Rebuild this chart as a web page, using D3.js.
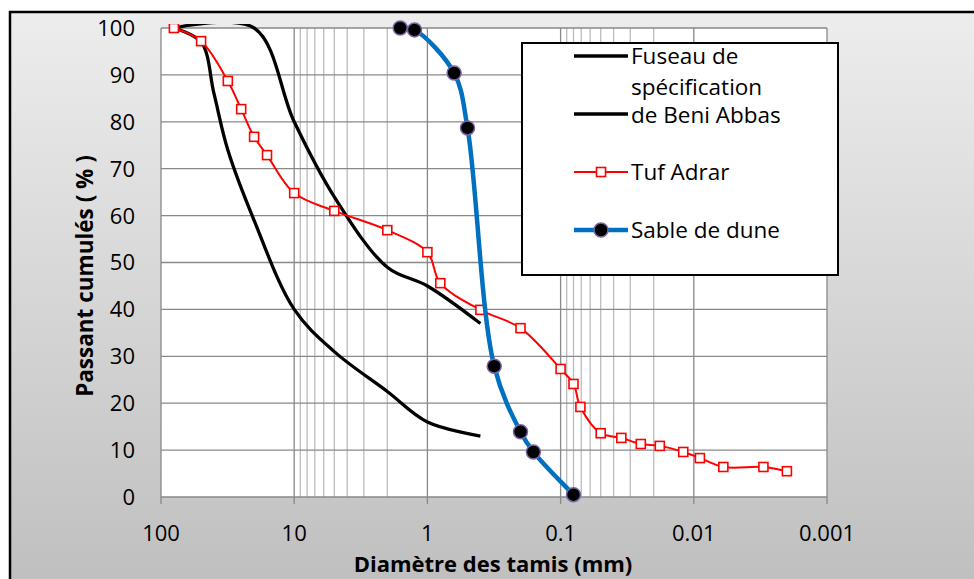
<!DOCTYPE html>
<html>
<head>
<meta charset="utf-8">
<script src="https://cdn.jsdelivr.net/npm/d3@7"></script>
<style>
  body { margin: 0; background: #fff; }
  text { font-family: "Open Sans", sans-serif; fill: #000; }
</style>
</head>
<body>
<div id="chart"></div>
<script>
// Sieve sizes (mm) and cumulative passing (%)
var tufDiam = [80, 50, 31.5, 25, 20, 16, 10, 5, 2, 1, 0.8, 0.4, 0.2, 0.1, 0.08, 0.071, 0.05, 0.035, 0.025, 0.018, 0.012, 0.009, 0.006, 0.003, 0.002];
var tufPass = [100, 97.2, 88.7, 82.7, 76.8, 72.9, 64.8, 61, 56.9, 52.2, 45.6, 39.9, 36, 27.3, 24.1, 19.2, 13.6, 12.6, 11.3, 10.9, 9.6, 8.3, 6.4, 6.4, 5.5];

var sableDiam = [1.6, 1.25, 0.63, 0.5, 0.315, 0.2, 0.16, 0.08];
var sablePass = [100, 99.6, 90.4, 78.7, 27.9, 13.9, 9.6, 0.5];

var fuseauHautDiam = [80, 20, 10, 5, 2, 1, 0.4];
var fuseauHautPass = [100, 100, 80, 64, 49, 45, 37];

var fuseauBasDiam = [80, 50, 40, 31.5, 20, 10, 5, 2, 1, 0.4];
var fuseauBasPass = [100, 97, 86, 74, 59, 40, 31, 22.5, 16, 13];

var xTicks = [100, 10, 1, 0.1, 0.01, 0.001];
var xTickLabels = ["100", "10", "1", "0.1", "0.01", "0.001"];
var yTicks = [0, 10, 20, 30, 40, 50, 60, 70, 80, 90, 100];
// minor grid only appears in these decades in the original
var xMinor = [9, 8, 7, 6, 5, 4, 3, 2, 0.09, 0.08, 0.07, 0.06, 0.05, 0.04, 0.03, 0.02];

var W = 974, H = 579;
var plot = {left: 161, top: 28, right: 827, bottom: 497};

var svg = d3.select("#chart").append("svg")
  .attr("width", W)
  .attr("height", H);

var defs = svg.append("defs");
var grad = defs.append("linearGradient")
  .attr("id", "bg")
  .attr("x1", 0).attr("y1", 0).attr("x2", 0).attr("y2", 1);
grad.append("stop").attr("offset", "0%").attr("stop-color", "#ededed");
grad.append("stop").attr("offset", "100%").attr("stop-color", "#bdbdbd");

defs.append("clipPath").attr("id", "plotClip")
  .append("rect")
  .attr("x", plot.left).attr("y", plot.top - 4)
  .attr("width", plot.right - plot.left)
  .attr("height", plot.bottom - plot.top + 8);

// chart area (cropped on right and bottom)
svg.append("rect")
  .attr("x", 10).attr("y", 12)
  .attr("width", W + 20).attr("height", H + 20)
  .attr("fill", "url(#bg)")
  .attr("stroke", "#000")
  .attr("stroke-width", 2.5);

svg.append("rect")
  .attr("x", plot.left).attr("y", plot.top)
  .attr("width", plot.right - plot.left)
  .attr("height", plot.bottom - plot.top)
  .attr("fill", "#fff");

var x = d3.scaleLog().domain([100, 0.001]).range([plot.left, plot.right]);
var y = d3.scaleLinear().domain([0, 100]).range([plot.bottom, plot.top]);

// grid
svg.append("g").selectAll("line")
  .data(xMinor).enter().append("line")
  .attr("x1", d => x(d)).attr("x2", d => x(d))
  .attr("y1", plot.top).attr("y2", plot.bottom)
  .attr("stroke", "#bcbcbc").attr("stroke-width", 1.3);

svg.append("g").selectAll("line")
  .data(yTicks).enter().append("line")
  .attr("x1", plot.left).attr("x2", plot.right)
  .attr("y1", d => y(d)).attr("y2", d => y(d))
  .attr("stroke", "#898989").attr("stroke-width", 1.3);

svg.append("g").selectAll("line")
  .data(xTicks).enter().append("line")
  .attr("x1", d => x(d)).attr("x2", d => x(d))
  .attr("y1", plot.top).attr("y2", plot.bottom + 7)
  .attr("stroke", "#898989").attr("stroke-width", 1.3);

// axes labels
svg.append("g").selectAll("text")
  .data(yTicks).enter().append("text")
  .attr("x", 135)
  .attr("y", d => y(d))
  .attr("dy", "0.36em")
  .attr("text-anchor", "end")
  .style("font-size", "22px")
  .text(d => d);

svg.append("g").selectAll("text")
  .data(xTicks).enter().append("text")
  .attr("x", d => x(d))
  .attr("y", 541)
  .attr("text-anchor", "middle")
  .style("font-size", "22px")
  .text((d, i) => xTickLabels[i]);

svg.append("text")
  .attr("transform", "translate(93,276) rotate(-90)")
  .attr("text-anchor", "middle")
  .style("font-size", "22.5px")
  .style("font-weight", "bold")
  .text("Passant cumulés ( % )");

svg.append("text")
  .attr("x", 493)
  .attr("y", 572)
  .attr("text-anchor", "middle")
  .style("font-size", "22px")
  .style("font-weight", "bold")
  .text("Diamètre des tamis (mm)");

// series
var line = d3.line()
  .x(d => x(d[0]))
  .y(d => y(d[1]))
  .curve(d3.curveCatmullRom.alpha(0.5));

var series = svg.append("g").attr("clip-path", "url(#plotClip)");

function pairs(a, b) { return a.map((d, i) => [d, b[i]]); }

series.append("path")
  .attr("d", line(pairs(fuseauHautDiam, fuseauHautPass)))
  .attr("fill", "none").attr("stroke", "#000").attr("stroke-width", 3.3);

series.append("path")
  .attr("d", line(pairs(fuseauBasDiam, fuseauBasPass)))
  .attr("fill", "none").attr("stroke", "#000").attr("stroke-width", 3.3);

var tuf = pairs(tufDiam, tufPass);
series.append("path")
  .attr("d", line(tuf))
  .attr("fill", "none").attr("stroke", "#ff0000").attr("stroke-width", 2);

series.selectAll(".sq")
  .data(tuf).enter().append("rect")
  .attr("class", "sq")
  .attr("x", d => x(d[0]) - 4.5)
  .attr("y", d => y(d[1]) - 4.5)
  .attr("width", 9).attr("height", 9)
  .attr("fill", "#fff").attr("stroke", "#ff0000").attr("stroke-width", 1.6);

var sable = pairs(sableDiam, sablePass);
svg.append("path")
  .attr("d", line(sable))
  .attr("fill", "none").attr("stroke", "#0070c0").attr("stroke-width", 4.5);

svg.selectAll(".dot")
  .data(sable).enter().append("circle")
  .attr("class", "dot")
  .attr("cx", d => x(d[0]))
  .attr("cy", d => y(d[1]))
  .attr("r", 7)
  .attr("fill", "#000").attr("stroke", "#7a64a8").attr("stroke-width", 1.5);

// legend
var lg = svg.append("g");
lg.append("rect")
  .attr("x", 522).attr("y", 43)
  .attr("width", 316).attr("height", 232)
  .attr("fill", "#fff").attr("stroke", "#000").attr("stroke-width", 2);

var lx1 = 574, lx2 = 628, lmid = 601;
lg.append("line").attr("x1", lx1).attr("x2", lx2).attr("y1", 56).attr("y2", 56)
  .attr("stroke", "#000").attr("stroke-width", 3.3);
lg.append("line").attr("x1", lx1).attr("x2", lx2).attr("y1", 114).attr("y2", 114)
  .attr("stroke", "#000").attr("stroke-width", 3.3);
lg.append("line").attr("x1", lx1).attr("x2", lx2).attr("y1", 172).attr("y2", 172)
  .attr("stroke", "#ff0000").attr("stroke-width", 2);
lg.append("rect").attr("x", lmid - 4.5).attr("y", 172 - 4.5).attr("width", 9).attr("height", 9)
  .attr("fill", "#fff").attr("stroke", "#ff0000").attr("stroke-width", 1.6);
lg.append("line").attr("x1", lx1).attr("x2", lx2).attr("y1", 230).attr("y2", 230)
  .attr("stroke", "#0070c0").attr("stroke-width", 4.5);
lg.append("circle").attr("cx", lmid).attr("cy", 230).attr("r", 7)
  .attr("fill", "#000").attr("stroke", "#7a64a8").attr("stroke-width", 1.5);

var legendText = [["Fuseau de", 64], ["spécification", 95], ["de Beni Abbas", 123], ["Tuf Adrar", 180], ["Sable de dune", 238]];
lg.selectAll(".lt")
  .data(legendText).enter().append("text")
  .attr("class", "lt")
  .attr("x", 631)
  .attr("y", d => d[1])
  .style("font-size", "22.5px")
  .text(d => d[0]);
</script>
</body>
</html>
